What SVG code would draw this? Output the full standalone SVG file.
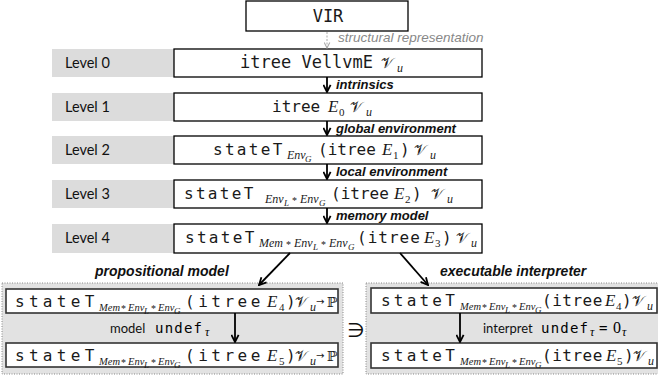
<svg xmlns="http://www.w3.org/2000/svg" width="658" height="378" viewBox="0 0 658 378">
<style>
.lvlbox{fill:#dcdcdc}
.box{fill:#fff;stroke:#000;stroke-width:1.3}
.ibox{fill:#fff;stroke:#333;stroke-width:1.6}
.dot{fill:#e2e2e2;stroke:#888;stroke-width:1;stroke-dasharray:1 1.5}
.lvl{font-family:Lato,"Open Sans",sans-serif;font-size:14.5px;fill:#111}
.m{font-family:"DejaVu Sans Mono",monospace;font-size:16px;fill:#1a1a1a}
.si{font-family:"Liberation Serif",serif;font-style:italic;font-size:12px;letter-spacing:0}
.sb{font-family:"Liberation Serif",serif;font-style:italic;font-size:10.5px;letter-spacing:0}
.ss{font-family:"Liberation Serif",serif;font-style:italic;font-size:9px;letter-spacing:0}
.st{font-family:"Liberation Serif",serif;font-size:10px;letter-spacing:0}
.to{font-family:"DejaVu Sans",sans-serif;font-size:10px;letter-spacing:0}
.mi{font-family:"Liberation Serif",serif;font-style:italic;font-size:17px;letter-spacing:0}
.sd{font-family:"Liberation Serif",serif;font-size:11px;letter-spacing:0}
.cal{font-family:"DejaVu Serif","DejaVu Sans",serif;font-size:15px;letter-spacing:0}
.lab{font-family:"Liberation Sans",Arial,sans-serif;font-weight:bold;font-style:italic;font-size:13px;fill:#111}
.glab{font-family:"Liberation Sans",Arial,sans-serif;font-style:italic;font-size:13.5px;fill:#888}
.hdr{font-family:"Liberation Sans",Arial,sans-serif;font-weight:bold;font-style:italic;font-size:14px;fill:#111}
.arr{stroke:#000;stroke-width:1.8;fill:none}
.garr{stroke:#aaa;stroke-width:1;stroke-dasharray:2 1.5;fill:none}
.sans{font-family:Lato,"Open Sans",sans-serif;font-size:13px;fill:#111}
.um{font-family:"DejaVu Sans Mono",monospace;font-size:14px;letter-spacing:1.2px}
</style>
<defs>
<marker id="ah" viewBox="0 0 10 10" refX="9" refY="5" markerWidth="9" markerHeight="9" markerUnits="userSpaceOnUse" orient="auto"><path d="M1,1 L9,5 L1,9" fill="none" stroke="#000" stroke-width="2"/></marker>
<marker id="gah" viewBox="0 0 10 10" refX="9" refY="5" markerWidth="7" markerHeight="7" markerUnits="userSpaceOnUse" orient="auto"><path d="M1,1 L9,5 L1,9" fill="none" stroke="#aaa" stroke-width="1.5"/></marker>
</defs>
<g id="vir"><rect class="box" x="246" y="1" width="162" height="30"/><text class="m" x="328" y="22" text-anchor="middle" style="font-size:17px">VIR</text></g>
<g id="level0"><rect class="lvlbox" x="52" y="49" width="122" height="28"/><text class="lvl" x="65" y="68">Level 0</text><rect class="box" x="174" y="49" width="308" height="28"/><text class="m" y="68"><tspan x="240" style="font-size:17px">itree VellvmE</tspan><tspan class="cal" x="381">𝒱</tspan><tspan class="si" x="397" y="72">u</tspan></text></g>
<g id="level1"><rect class="lvlbox" x="52" y="93" width="122" height="28"/><text class="lvl" x="65" y="112">Level 1</text><rect class="box" x="174" y="93" width="308" height="28"/><text class="m" y="112"><tspan x="272">itree</tspan><tspan class="mi" x="328">E</tspan><tspan class="sd" x="339" y="116">0</tspan><tspan class="cal" x="350" y="112">𝒱</tspan><tspan class="si" x="366" y="116">u</tspan></text></g>
<g id="level2"><rect class="lvlbox" x="52" y="136" width="122" height="28"/><text class="lvl" x="65" y="155">Level 2</text><rect class="box" x="174" y="136" width="308" height="28"/><text class="m" y="155"><tspan x="213" style="letter-spacing:2.3px">stateT</tspan><tspan class="si" x="287" y="159">Env</tspan><tspan class="ss" x="305" y="162">G</tspan><tspan x="318" y="155">(itree</tspan><tspan class="mi" x="382">E</tspan><tspan class="sd" x="393" y="159">1</tspan><tspan x="400" y="155">)</tspan><tspan class="cal" x="414">𝒱</tspan><tspan class="si" x="430" y="159">u</tspan></text></g>
<g id="level3"><rect class="lvlbox" x="52" y="180" width="122" height="28"/><text class="lvl" x="65" y="199">Level 3</text><rect class="box" x="174" y="180" width="308" height="28"/><text class="m" y="199"><tspan x="184" style="letter-spacing:2.3px">stateT</tspan><tspan class="si" x="265" y="203">Env</tspan><tspan class="ss" x="284" y="206">L</tspan><tspan class="st" x="292" y="204">*</tspan><tspan class="si" x="300" y="203">Env</tspan><tspan class="ss" x="319" y="206">G</tspan><tspan x="331" y="199">(itree</tspan><tspan class="mi" x="394">E</tspan><tspan class="sd" x="405" y="203">2</tspan><tspan x="412" y="199">)</tspan><tspan class="cal" x="431">𝒱</tspan><tspan class="si" x="447" y="203">u</tspan></text></g>
<g id="level4"><rect class="lvlbox" x="52" y="224" width="122" height="29"/><text class="lvl" x="65" y="243">Level 4</text><rect class="box" x="174" y="224" width="308" height="29"/><text class="m" y="243"><tspan x="185" style="letter-spacing:2.3px">stateT</tspan><tspan class="si" x="259" y="247">Mem</tspan><tspan class="st" x="286" y="248">*</tspan><tspan class="si" x="294" y="247">Env</tspan><tspan class="ss" x="313" y="250">L</tspan><tspan class="st" x="321" y="248">*</tspan><tspan class="si" x="329" y="247">Env</tspan><tspan class="ss" x="348" y="250">G</tspan><tspan x="357" y="243" style="letter-spacing:1px">(itree</tspan><tspan class="mi" x="424">E</tspan><tspan class="sd" x="435" y="247">3</tspan><tspan x="442" y="243">)</tspan><tspan class="cal" x="456">𝒱</tspan><tspan class="si" x="471" y="247">u</tspan></text></g>
<g id="propositional">
<rect class="dot" x="2" y="283" width="341" height="91"/>
<text class="hdr" x="95" y="276">propositional model</text>
<g id="prop-top"><rect class="ibox" x="6" y="289" width="332" height="24"/><text class="m" y="307"><tspan x="15" style="letter-spacing:4.3px">stateT</tspan><tspan class="sb" x="99" y="311">Mem</tspan><tspan class="st" x="121" y="312">*</tspan><tspan class="sb" x="128" y="311">Env</tspan><tspan class="ss" x="144" y="314">L</tspan><tspan class="st" x="151" y="312">*</tspan><tspan class="sb" x="158" y="311">Env</tspan><tspan class="ss" x="174" y="314">G</tspan><tspan x="185" y="307" style="letter-spacing:3.5px">(itree</tspan><tspan class="mi" x="267">E</tspan><tspan class="sd" x="279" y="311">4</tspan><tspan x="286" y="307">)</tspan><tspan class="cal" x="295">𝒱</tspan><tspan class="si" x="310" y="311">u</tspan><tspan class="to" x="316" y="305">→</tspan><tspan class="cal" x="327" y="307" style="font-size:14px">ℙ</tspan></text></g>
<g id="prop-bot"><rect class="ibox" x="6" y="343" width="332" height="24"/><text class="m" y="361"><tspan x="15" style="letter-spacing:4.3px">stateT</tspan><tspan class="sb" x="99" y="365">Mem</tspan><tspan class="st" x="121" y="366">*</tspan><tspan class="sb" x="128" y="365">Env</tspan><tspan class="ss" x="144" y="368">L</tspan><tspan class="st" x="151" y="366">*</tspan><tspan class="sb" x="158" y="365">Env</tspan><tspan class="ss" x="174" y="368">G</tspan><tspan x="185" y="361" style="letter-spacing:3.5px">(itree</tspan><tspan class="mi" x="267">E</tspan><tspan class="sd" x="279" y="365">5</tspan><tspan x="286" y="361">)</tspan><tspan class="cal" x="295">𝒱</tspan><tspan class="si" x="310" y="365">u</tspan><tspan class="to" x="316" y="359">→</tspan><tspan class="cal" x="327" y="361" style="font-size:14px">ℙ</tspan></text></g>
<text y="333"><tspan class="sans" x="110">model</tspan><tspan class="um" x="155">undef</tspan><tspan class="si" x="205" y="336">τ</tspan></text>
</g>
<g id="executable">
<rect class="dot" x="366" y="283" width="296" height="91"/>
<text class="hdr" x="440" y="276">executable interpreter</text>
<g id="exec-top"><rect class="ibox" x="371" y="288" width="286" height="25"/><text class="m" y="306"><tspan x="381" style="letter-spacing:3.2px">stateT</tspan><tspan class="sb" x="460" y="310">Mem</tspan><tspan class="st" x="482" y="311">*</tspan><tspan class="sb" x="489" y="310">Env</tspan><tspan class="ss" x="505" y="313">L</tspan><tspan class="st" x="512" y="311">*</tspan><tspan class="sb" x="519" y="310">Env</tspan><tspan class="ss" x="535" y="313">G</tspan><tspan x="542" y="306" style="letter-spacing:0.5px">(itree</tspan><tspan class="mi" x="605">E</tspan><tspan class="sd" x="616" y="310">4</tspan><tspan x="622" y="306">)</tspan><tspan class="cal" x="632">𝒱</tspan><tspan class="si" x="647" y="310">u</tspan></text></g>
<g id="exec-bot"><rect class="ibox" x="371" y="343" width="286" height="25"/><text class="m" y="361"><tspan x="381" style="letter-spacing:3.2px">stateT</tspan><tspan class="sb" x="460" y="365">Mem</tspan><tspan class="st" x="482" y="366">*</tspan><tspan class="sb" x="489" y="365">Env</tspan><tspan class="ss" x="505" y="368">L</tspan><tspan class="st" x="512" y="366">*</tspan><tspan class="sb" x="519" y="365">Env</tspan><tspan class="ss" x="535" y="368">G</tspan><tspan x="542" y="361" style="letter-spacing:0.5px">(itree</tspan><tspan class="mi" x="606">E</tspan><tspan class="sd" x="617" y="365">5</tspan><tspan x="624" y="361">)</tspan><tspan class="cal" x="633">𝒱</tspan><tspan class="si" x="648" y="365">u</tspan></text></g>
<text y="333"><tspan class="sans" x="483">interpret</tspan><tspan class="um" x="541">undef</tspan><tspan class="si" x="590" y="336">τ</tspan><tspan class="um" x="599" y="333">=</tspan><tspan class="sd" x="613" y="333" style="font-size:16px">0</tspan><tspan class="si" x="622" y="336">τ</tspan></text>
</g>
<text id="contains" x="347" y="337" style="font-family:'DejaVu Sans',sans-serif;font-size:20px;fill:#111">∋</text>
<g id="connectors">
<line class="garr" x1="327" y1="32" x2="327" y2="48" marker-end="url(#gah)"/>
<text class="glab" x="338" y="42">structural representation</text>
<line class="arr" x1="327" y1="77" x2="327" y2="92" marker-end="url(#ah)"/>
<text class="lab" x="336" y="89">intrinsics</text>
<line class="arr" x1="327" y1="121" x2="327" y2="135" marker-end="url(#ah)"/>
<text class="lab" x="336" y="133">global environment</text>
<line class="arr" x1="327" y1="164" x2="327" y2="179" marker-end="url(#ah)"/>
<text class="lab" x="336" y="176">local environment</text>
<line class="arr" x1="327" y1="208" x2="327" y2="223" marker-end="url(#ah)"/>
<text class="lab" x="336" y="220">memory model</text>
<line class="arr" x1="290" y1="253" x2="259" y2="285" marker-end="url(#ah)"/>
<line class="arr" x1="400" y1="253" x2="428" y2="285" marker-end="url(#ah)"/>
<line class="arr" x1="235" y1="313" x2="235" y2="342" marker-end="url(#ah)"/>
<line class="arr" x1="460" y1="313" x2="460" y2="342" marker-end="url(#ah)"/>
</g>
</svg>
